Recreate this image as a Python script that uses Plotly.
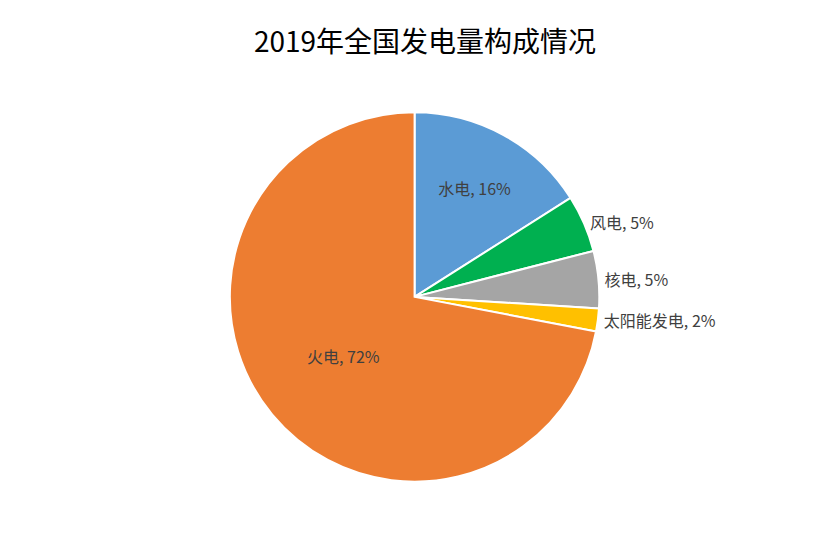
import plotly.graph_objects as go

labels = ["水电", "风电", "核电", "太阳能发电", "火电"]
values = [16, 5, 5, 2, 72]
colors = ["#5B9BD5", "#00B050", "#A5A5A5", "#FFC000", "#ED7D31"]
positions = ["inside", "outside", "outside", "outside", "inside"]

fig = go.Figure(go.Pie(
    labels=labels, values=values, sort=False, direction="clockwise", rotation=0,
    marker=dict(colors=colors, line=dict(color="white", width=2)),
    texttemplate="%{label}, %{value}%", textposition=positions,
    insidetextorientation="horizontal",
    textfont=dict(size=16, color="#404040", family="Noto Sans CJK SC"),
    domain=dict(x=[0.266, 0.709], y=[0.111, 0.805]),
    showlegend=False,
))
fig.update_layout(
    width=834, height=533, margin=dict(l=0, r=0, t=0, b=0),
    paper_bgcolor="white",
    title=dict(text="2019年全国发电量构成情况", x=0.5, y=0.935, xanchor="center", yanchor="middle",
               font=dict(size=28, color="black", family="Noto Sans CJK SC")),
)
fig.write_html("out.html")
